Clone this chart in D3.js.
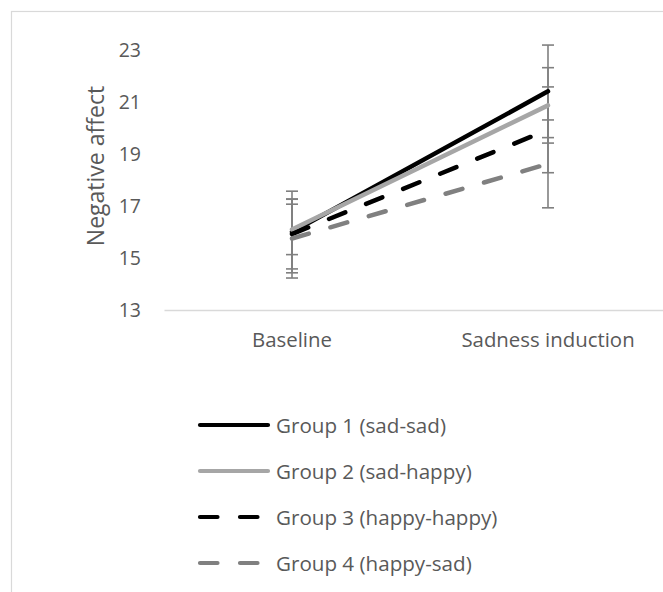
<!DOCTYPE html>
<html>
<head>
<meta charset="utf-8">
<script src="https://cdn.jsdelivr.net/npm/d3@7"></script>
<style>
  html, body { margin: 0; padding: 0; background: #fff; }
  svg { display: block; font-family: "Open Sans", "Liberation Sans", sans-serif; }
</style>
</head>
<body>
<svg id="chart" width="663" height="592"></svg>
<script>
// Conditions on the x axis
const conditions = ["Baseline", "Sadness induction"];
// Group names (legend order)
const groups = ["Group 1 (sad-sad)", "Group 2 (sad-happy)", "Group 3 (happy-happy)", "Group 4 (happy-sad)"];
// Mean negative affect per group at each condition
const means = [
  [16.0, 21.41],
  [16.1, 20.87],
  [15.92, 19.93],
  [15.75, 18.62]
];
// Standard error per group at each condition
const errors = [
  [1.57, 1.78],
  [0.97, 1.45],
  [1.34, 1.65],
  [1.52, 1.69]
];
const yTicks = [13, 15, 17, 19, 21, 23];

const styles = [
  { color: "#000000", dash: null },
  { color: "#a6a6a6", dash: null },
  { color: "#000000", dash: "17.5,22.5" },
  { color: "#808080", dash: "17.5,22.5" }
];

const svg = d3.select("#chart");
const textColor = "#595959";

// chart area frame
svg.append("rect")
  .attr("x", 11.5).attr("y", 11.5)
  .attr("width", 700).attr("height", 700)
  .attr("fill", "none").attr("stroke", "#d9d9d9").attr("stroke-width", 1.2);

const x = d3.scaleBand().domain(conditions).range([164, 676]);
const y = d3.scaleLinear().domain([13, 23]).range([310, 50]);
const cx = c => x(c) + x.bandwidth() / 2;

// y axis labels (no axis line)
const yAxis = svg.append("g")
  .attr("transform", "translate(141,0)")
  .call(d3.axisLeft(y).tickValues(yTicks).tickSize(0).tickPadding(0));
yAxis.select(".domain").remove();
yAxis.selectAll("text")
  .attr("fill", textColor)
  .style("font-size", "19.5px")
  .style("font-family", "'Open Sans', sans-serif");

// x axis
const xAxis = svg.append("g")
  .attr("transform", "translate(0,310)")
  .call(d3.axisBottom(x).tickSize(0).tickPadding(23));
xAxis.select(".domain").attr("stroke", "#d9d9d9").attr("stroke-width", 1.5);
xAxis.selectAll("text")
  .attr("fill", textColor)
  .style("font-size", "20.4px")
  .style("font-family", "'Open Sans', sans-serif");

// axis title
svg.append("text")
  .attr("transform", "translate(95,166) rotate(-90)")
  .attr("text-anchor", "middle")
  .attr("dominant-baseline", "central")
  .attr("fill", textColor)
  .style("font-size", "23px")
  .text("Negative affect");

// error bars
const ebColor = "#808080";
groups.forEach((g, gi) => {
  conditions.forEach((c, ci) => {
    const m = means[gi][ci], e = errors[gi][ci];
    const px = cx(c);
    const eg = svg.append("g").attr("stroke", ebColor).attr("stroke-width", 1.6);
    eg.append("line").attr("x1", px).attr("x2", px).attr("y1", y(m - e)).attr("y2", y(m + e));
    [m - e, m + e].forEach(v => {
      eg.append("line").attr("x1", px - 6).attr("x2", px + 6).attr("y1", y(v)).attr("y2", y(v));
    });
  });
});

// series lines
const line = d3.line().x((d, i) => cx(conditions[i])).y(d => y(d));
groups.forEach((g, gi) => {
  svg.append("path")
    .datum(means[gi])
    .attr("d", line)
    .attr("fill", "none")
    .attr("stroke", styles[gi].color)
    .attr("stroke-width", 4.5)
    .attr("stroke-linecap", "round")
    .attr("stroke-dasharray", styles[gi].dash);
});

// legend
const legendY = d3.scalePoint().domain(groups).range([425, 563]);
groups.forEach((g, gi) => {
  const ly = legendY(g);
  svg.append("line")
    .attr("x1", 200).attr("x2", 268)
    .attr("y1", ly).attr("y2", ly)
    .attr("stroke", styles[gi].color)
    .attr("stroke-width", 4.2)
    .attr("stroke-linecap", "round")
    .attr("stroke-dasharray", styles[gi].dash);
  svg.append("text")
    .attr("x", 276).attr("y", ly)
    .attr("dominant-baseline", "central")
    .attr("fill", textColor)
    .style("font-size", "20.6px")
    .text(g);
});
</script>
</body>
</html>
